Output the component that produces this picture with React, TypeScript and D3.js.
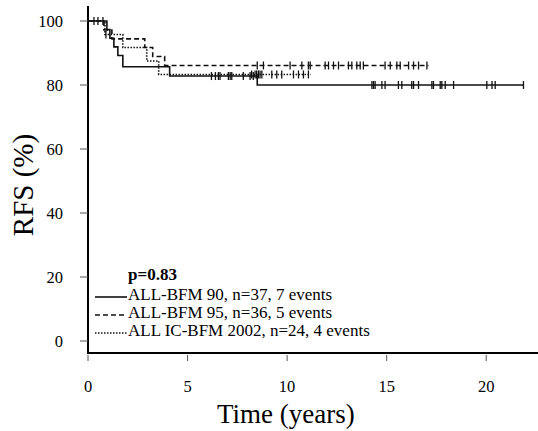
import React from "react";
import * as d3 from "d3";

const width = 538;
const height = 431;

// x ticks (years) and y ticks (%)
const xTicks = [0, 5, 10, 15, 20];
const yTicks = [0, 20, 40, 60, 80, 100];

// ALL-BFM 90, solid
const bfm90Events = [0.95, 1.1, 1.3, 1.5, 1.75, 4.1, 8.5];
const bfm90Surv = [97.3, 94.6, 91.9, 89.2, 85.7, 82.8, 80.0];
const bfm90Censored = [0.5, 0.75, 6.2, 6.4, 6.55, 6.63, 7.05, 7.14, 7.22, 7.8, 8.14, 8.3,
  14.26, 14.34, 14.42, 14.76, 14.92, 15.59, 15.76, 16.26, 16.35, 16.6, 17.27, 17.35,
  17.69, 17.77, 17.94, 18.36, 20.03, 20.29, 20.45, 21.87];
const bfm90End = 21.9;

// ALL-BFM 95, dashed
const bfm95Events = [0.8, 1.2, 2.85, 3.25, 3.85];
const bfm95Surv = [97.2, 94.4, 91.7, 88.9, 86.1];
const bfm95Censored = [0.3, 8.5, 8.81, 10.15, 10.74, 11.07, 11.16, 11.91, 12.08, 12.33,
  12.58, 13.08, 13.25, 13.5, 13.67, 13.83, 14.92, 15.18, 15.51, 15.68, 16.1, 16.35,
  16.6, 17.02];
const bfm95End = 17.1;

// ALL IC-BFM 2002, dotted
const ic2002Events = [0.85, 1.75, 2.95, 3.55];
const ic2002Surv = [95.8, 91.7, 87.5, 83.3];
const ic2002Censored = [0.9, 8.22, 8.39, 8.47, 8.56, 8.64, 8.73, 9.23, 9.48, 9.73,
  10.32, 10.57, 10.82, 11.07];
const ic2002End = 11.2;

const legendLabels = [
  "ALL-BFM 90, n=37, 7 events",
  "ALL-BFM 95, n=36, 5 events",
  "ALL IC-BFM 2002, n=24, 4 events",
];

const x = d3.scaleLinear().domain([0, 22.6]).range([88, 538]);
const y = d3.scaleLinear().domain([0, 100]).range([341, 21]);

function survAt(events: number[], surv: number[], t: number) {
  let s = 100;
  events.forEach((e, i) => {
    if (e <= t) s = surv[i];
  });
  return s;
}

const series = [
  { events: bfm90Events, surv: bfm90Surv, censored: bfm90Censored, end: bfm90End, dash: null },
  { events: bfm95Events, surv: bfm95Surv, censored: bfm95Censored, end: bfm95End, dash: "5,3" },
  { events: ic2002Events, surv: ic2002Surv, censored: ic2002Censored, end: ic2002End, dash: "1.5,1.5" },
];

const line = d3
  .line<[number, number]>()
  .x(d => x(d[0]))
  .y(d => y(d[1]))
  .curve(d3.curveStepAfter);

export default function App() {
  return (
    <svg
      width={width}
      height={height}
      style={{ position: "absolute", left: 0, top: 0, background: "#fff" }}
    >
      {/* axes */}
      <line x1={x(0)} x2={x(0)} y1={6} y2={354} stroke="#000" strokeWidth={2} />
      <line x1={x(0) - 1} x2={width} y1={353} y2={353} stroke="#000" strokeWidth={2} />
      {yTicks.map(t => (
        <line key={"yt" + t} x1={80} x2={88} y1={y(t)} y2={y(t)} stroke="#555" strokeWidth={1} />
      ))}
      {xTicks.map(t => (
        <line key={"xt" + t} x1={x(t)} x2={x(t)} y1={355} y2={361} stroke="#555" strokeWidth={1} />
      ))}

      {/* curves */}
      {series.map((s, i) => {
        const pts: [number, number][] = [[0, 100]];
        s.events.forEach((e, j) => pts.push([e, s.surv[j]]));
        pts.push([s.end, s.surv[s.surv.length - 1]]);
        return (
          <g key={i}>
            <path
              d={line(pts) || ""}
              fill="none"
              stroke="#111"
              strokeWidth={1.6}
              strokeDasharray={s.dash || undefined}
            />
            {s.censored.map((c, k) => {
              const v = survAt(s.events, s.surv, c);
              return (
                <line
                  key={k}
                  x1={x(c)}
                  x2={x(c)}
                  y1={y(v) - 4}
                  y2={y(v) + 4}
                  stroke="#111"
                  strokeWidth={1.3}
                />
              );
            })}
          </g>
        );
      })}
      {legendLabels.map((l, i) => (
        <line
          key={l}
          x1={95}
          x2={127}
          y1={297 + i * 18}
          y2={297 + i * 18}
          stroke="#111"
          strokeWidth={1.6}
          strokeDasharray={series[i].dash || undefined}
        />
      ))}

      {/* all text, serif */}
      {yTicks.map(t => (
        <text key={"yl" + t} x={63} y={y(t) + 5.5} textAnchor="end" fontSize={16.5}
          style={{ fontFamily: "Liberation Serif" }}>
          {String(t)}
        </text>
      ))}
      {xTicks.map(t => (
        <text key={"xl" + t} x={x(t)} y={392} textAnchor="middle" fontSize={16.5}
          style={{ fontFamily: "Liberation Serif" }}>
          {String(t)}
        </text>
      ))}
      <text x={217} y={423} fontSize={27} style={{ fontFamily: "Liberation Serif" }}>
        Time (years)
      </text>
      <text
        transform="translate(33, 185) rotate(-90)"
        textAnchor="middle"
        fontSize={29}
        style={{ fontFamily: "Liberation Serif" }}
      >
        RFS (%)
      </text>
      <text x={128} y={280} fontSize={17} fontWeight="bold" style={{ fontFamily: "Liberation Serif" }}>
        p=0.83
      </text>
      {legendLabels.map((l, i) => (
        <text key={"lt" + i} x={128} y={300 + i * 18} fontSize={17} style={{ fontFamily: "Liberation Serif" }}>
          {l}
        </text>
      ))}
    </svg>
  );
}
